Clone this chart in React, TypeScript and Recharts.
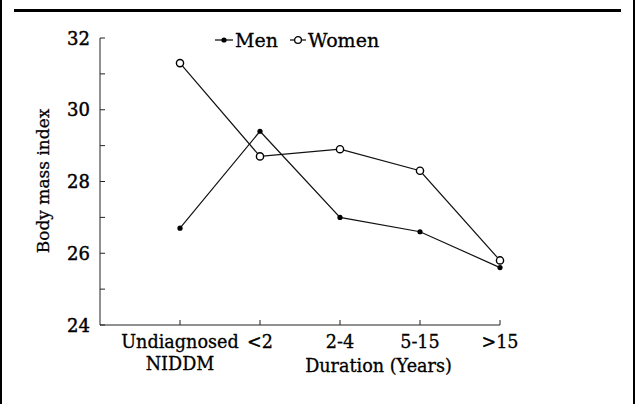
import { LineChart, Line, XAxis, YAxis, Legend } from 'recharts'

const categories = ['Undiagnosed\nNIDDM', '<2', '2-4', '5-15', '>15']
const men = [26.7, 29.4, 27.0, 26.6, 25.6]
const women = [31.3, 28.7, 28.9, 28.3, 25.8]
const yTicks = [24, 25, 26, 27, 28, 29, 30, 31, 32]
const yLabelTicks = [24, 26, 28, 30, 32]

const data = categories.map((c, i) => ({ cat: c, men: men[i], women: women[i] }))

const FONT = '"DejaVu Serif", serif'
const thick = { stroke: '#000', strokeWidth: 0.3 }

const XTick = (props: any) => {
  const { x, y, payload } = props
  const lines = String(payload.value).split('\n')
  return (
    <text x={x} y={y} textAnchor="middle" fontFamily={FONT} fontSize={17.6} fill="#000" {...thick}>
      {lines.map((l, i) => (
        <tspan key={i} x={x} y={y + i * 22}>{l}</tspan>
      ))}
    </text>
  )
}

const YTick = (props: any) => {
  const { x, y, payload } = props
  if (!yLabelTicks.includes(payload.value)) return null
  return (
    <text x={x} y={y} textAnchor="end" dominantBaseline="central" fontFamily={FONT} fontSize={18} fill="#000" stroke="#000" strokeWidth={0.45}>
      {payload.value}
    </text>
  )
}

const MenDot = (props: any) => <circle cx={props.cx} cy={props.cy} r={2.6} fill="#000" />
const WomenDot = (props: any) => (
  <circle cx={props.cx} cy={props.cy} r={3.6} fill="#fff" stroke="#000" strokeWidth={1.4} />
)

const LegendContent = () => (
  <div style={{ display: 'flex', alignItems: 'center', fontFamily: FONT, fontSize: 19, color: '#000', WebkitTextStroke: '0.3px #000' }}>
    <svg width={20} height={10}>
      <line x1={1} y1={5} x2={19} y2={5} stroke="#000" strokeWidth={1.2} />
      <circle cx={10} cy={5} r={2.6} fill="#000" />
    </svg>
    <span style={{ marginLeft: 1 }}>Men</span>
    <svg width={18} height={10} style={{ marginLeft: 11 }}>
      <line x1={1} y1={5} x2={17} y2={5} stroke="#000" strokeWidth={1.2} />
      <circle cx={9} cy={5} r={3.4} fill="#fff" stroke="#000" strokeWidth={1.3} />
    </svg>
    <span style={{ marginLeft: 1 }}>Women</span>
  </div>
)

export default function App() {
  return (
    <div style={{ position: 'absolute', left: 0, top: 0, width: 636, height: 404, background: '#fff' }}>
      <div style={{ position: 'absolute', left: 0, top: 0, width: 2, height: 404, background: '#000' }} />
      <div style={{ position: 'absolute', left: 633, top: 0, width: 2, height: 404, background: '#000' }} />
      <div style={{ position: 'absolute', left: 14, top: 9, width: 607, height: 3, background: '#000' }} />
      <LineChart width={636} height={404} data={data} margin={{ top: 38, right: 136, bottom: 19, left: 0 }}>
        <XAxis
          dataKey="cat"
          scale="point"
          padding={{ left: 80, right: 0 }}
          height={60}
          stroke="#222"
          tickSize={-5}
          tickMargin={28}
          tick={<XTick />}
          interval={0}
          label={(p: any) => (
            <text x={378.5} y={372} textAnchor="middle" fontFamily={FONT} fontSize={17.6} fill="#000" {...thick}>
              Duration (Years)
            </text>
          )}
        />
        <YAxis
          type="number"
          domain={[24, 32]}
          ticks={yTicks}
          interval={0}
          width={100}
          stroke="#222"
          tickSize={-5}
          tickMargin={15}
          tick={<YTick />}
          label={(p: any) => (
            <text x={43} y={181} transform="rotate(-90 43 181)" textAnchor="middle" dominantBaseline="central" fontFamily={FONT} fontSize={17} fill="#000" {...thick}>
              Body mass index
            </text>
          )}
        />
        <Legend
          verticalAlign="middle"
          align="center"
          content={<LegendContent />}
          wrapperStyle={{ position: 'absolute', left: 214, top: 29, width: 'auto' }}
        />
        <Line dataKey="men" stroke="#111" strokeWidth={1.2} dot={<MenDot />} isAnimationActive={false} />
        <Line dataKey="women" stroke="#111" strokeWidth={1.2} dot={<WomenDot />} isAnimationActive={false} />
      </LineChart>
    </div>
  )
}
